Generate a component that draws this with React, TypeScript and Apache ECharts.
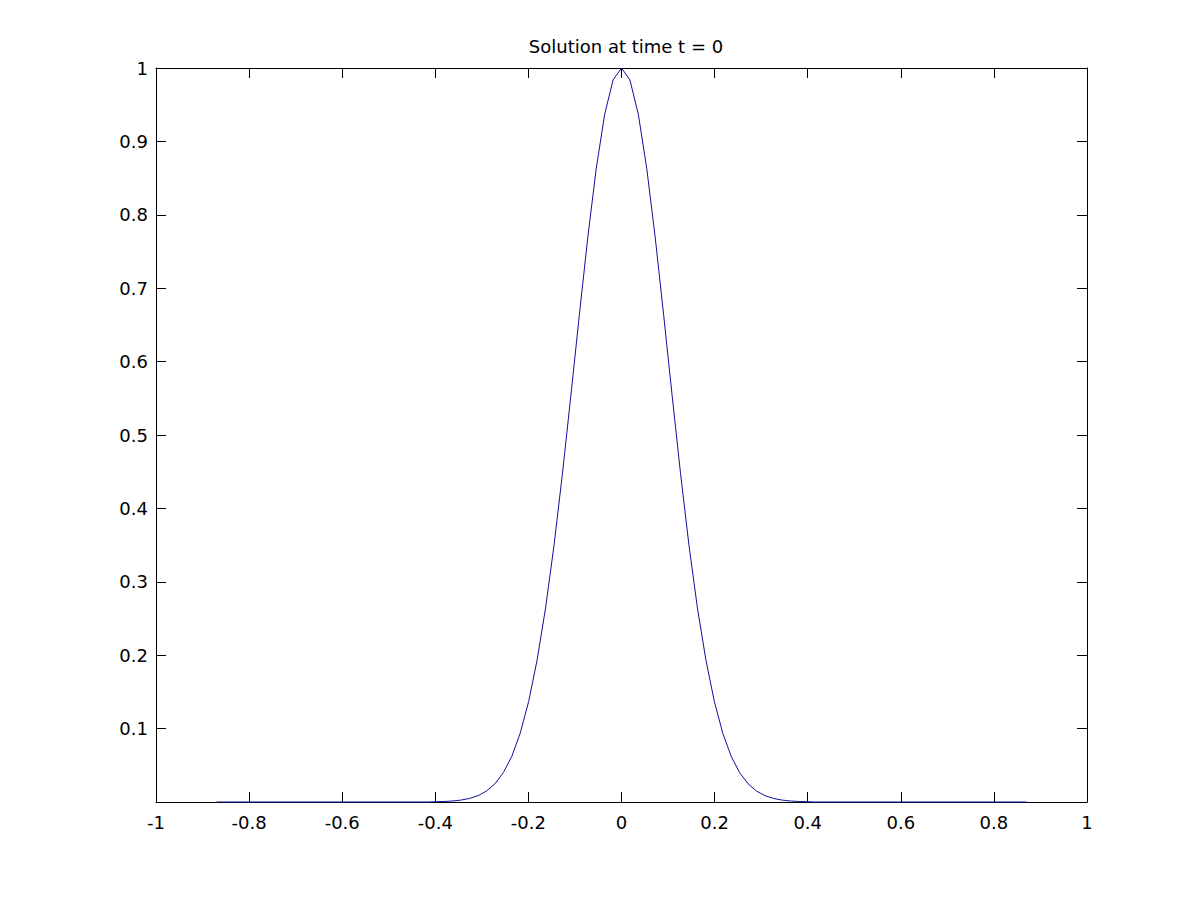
import React, { useEffect, useRef } from "react";
import * as echarts from "echarts";

const titleText = "Solution at time t = 0";

const xValues = [
  -0.87, -0.8519, -0.8338, -0.8156, -0.7975, -0.7794, -0.7613, -0.7431, -0.725, -0.7069,
  -0.6888, -0.6706, -0.6525, -0.6344, -0.6163, -0.5981, -0.58, -0.5619, -0.5438, -0.5256,
  -0.5075, -0.4894, -0.4713, -0.4531, -0.435, -0.4169, -0.3988, -0.3806, -0.3625, -0.3444,
  -0.3263, -0.3081, -0.29, -0.2719, -0.2538, -0.2356, -0.2175, -0.1994, -0.1813, -0.1631,
  -0.145, -0.1269, -0.1088, -0.0906, -0.0725, -0.0544, -0.0363, -0.0181, 0,
  0.0181, 0.0363, 0.0544, 0.0725, 0.0906, 0.1088, 0.1269, 0.145, 0.1631, 0.1813,
  0.1994, 0.2175, 0.2356, 0.2538, 0.2719, 0.29, 0.3081, 0.3263, 0.3444, 0.3625,
  0.3806, 0.3988, 0.4169, 0.435, 0.4531, 0.4713, 0.4894, 0.5075, 0.5256, 0.5438,
  0.5619, 0.58, 0.5981, 0.6163, 0.6344, 0.6525, 0.6706, 0.6888, 0.7069, 0.725,
  0.7431, 0.7613, 0.7794, 0.7975, 0.8156, 0.8338, 0.8519, 0.87,
];

const yValues = [
  0, 0, 0, 0, 0, 0, 0, 0, 0, 0,
  0, 0, 0, 0, 0, 0, 0, 0, 0, 0,
  0, 0, 0, 0, 0, 0, 0.00035, 0.00071, 0.0014, 0.00266,
  0.00488, 0.00868, 0.01492, 0.02482, 0.03997, 0.06229, 0.09392, 0.13704, 0.19348, 0.26435,
  0.3495, 0.44715, 0.55359, 0.66323, 0.76889, 0.86258, 0.93641, 0.98371, 1,
  0.98371, 0.93641, 0.86258, 0.76889, 0.66323, 0.55359, 0.44715, 0.3495, 0.26435, 0.19348,
  0.13704, 0.09392, 0.06229, 0.03997, 0.02482, 0.01492, 0.00868, 0.00488, 0.00266, 0.0014,
  0.00071, 0.00035, 0, 0, 0, 0, 0, 0, 0, 0,
  0, 0, 0, 0, 0, 0, 0, 0, 0, 0,
  0, 0, 0, 0, 0, 0, 0, 0,
];

const xRange = [-1, 1];
const xStep = 0.2;
const yRange = [0, 1];
const yStep = 0.1;

export default function App() {
  const ref = useRef<HTMLDivElement>(null);

  useEffect(() => {
    document.body.style.margin = "0";
    if (!ref.current) return;
    const chart = echarts.init(ref.current, undefined, { renderer: "svg" });
    const font = "DejaVu Sans";
    const axisLineStyle = { color: "#000000", width: 1 };
    const data = xValues.map((x, i) => [x, yValues[i]]);
    chart.setOption({
      animation: false,
      backgroundColor: "#ffffff",
      title: {
        text: titleText,
        left: 621,
        textAlign: "center",
        top: 32,
        textStyle: { fontFamily: font, fontSize: 18, fontWeight: "normal", color: "#000" },
      },
      grid: { left: 156, right: 114, top: 68, bottom: 99, containLabel: false },
      xAxis: [
        {
          type: "value",
          min: xRange[0],
          max: xRange[1],
          interval: xStep,
          position: "bottom",
          axisLine: { show: true, lineStyle: axisLineStyle },
          axisTick: { show: true, inside: true, length: 10, lineStyle: axisLineStyle },
          axisLabel: {
            show: true,
            margin: 11,
            fontFamily: font,
            fontSize: 18,
            color: "#000",
            formatter: (v: number) => String(Number(v.toFixed(1))),
          },
          splitLine: { show: false },
        },
        {
          type: "value",
          min: xRange[0],
          max: xRange[1],
          interval: xStep,
          position: "top",
          axisLine: { show: true, onZero: false, lineStyle: axisLineStyle },
          axisTick: { show: true, inside: true, length: 10, lineStyle: axisLineStyle },
          axisLabel: { show: false },
          splitLine: { show: false },
        },
      ],
      yAxis: [
        {
          type: "value",
          min: yRange[0],
          max: yRange[1],
          interval: yStep,
          position: "left",
          axisLine: { show: true, onZero: false, lineStyle: axisLineStyle },
          axisTick: { show: true, inside: true, length: 10, lineStyle: axisLineStyle },
          axisLabel: {
            show: true,
            margin: 8,
            fontFamily: font,
            fontSize: 18,
            color: "#000",
            formatter: (v: number) => (v === 0 ? "" : String(Number(v.toFixed(1)))),
          },
          splitLine: { show: false },
        },
        {
          type: "value",
          min: yRange[0],
          max: yRange[1],
          interval: yStep,
          position: "right",
          axisLine: { show: true, onZero: false, lineStyle: axisLineStyle },
          axisTick: { show: true, inside: true, length: 10, lineStyle: axisLineStyle },
          axisLabel: { show: false },
          splitLine: { show: false },
        },
      ],
      series: [
        {
          type: "line",
          xAxisIndex: 0,
          yAxisIndex: 0,
          data,
          showSymbol: false,
          symbol: "none",
          lineStyle: { color: "#10109a", width: 1 },
          clip: false,
        },
      ],
    });
    return () => chart.dispose();
  }, []);

  return <div ref={ref} style={{ width: 1201, height: 901 }} />;
}
